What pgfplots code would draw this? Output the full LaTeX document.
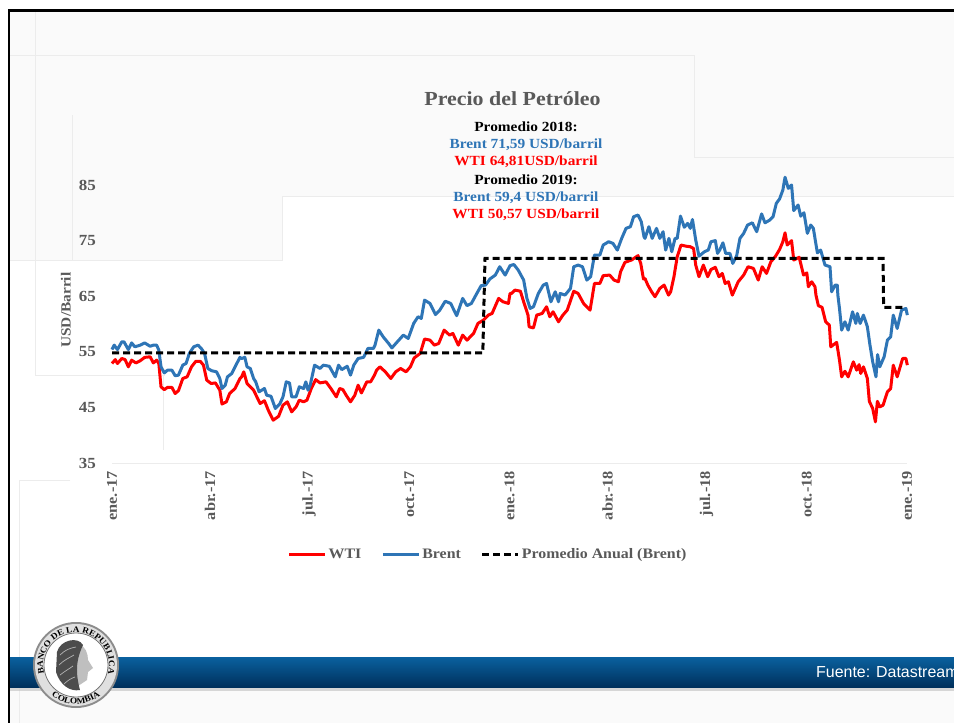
\documentclass[border=0pt]{standalone}
\usepackage{fontspec}
\setmainfont[FakeStretch=1.1]{Liberation Serif}
\newfontfamily\arialf{Liberation Sans}
\usepackage{pgfplots}
\pgfplotsset{compat=1.18}
\usetikzlibrary{decorations.text}
\definecolor{tickgray}{HTML}{595959}
\definecolor{brentblue}{HTML}{2E75B6}
\definecolor{wtired}{HTML}{FF0000}
\definecolor{faint}{HTML}{ECECEC}
\definecolor{bandtop}{HTML}{0A619F}
\definecolor{bandbot}{HTML}{00305C}
\begin{document}
\begin{tikzpicture}
\path[use as bounding box,clip] (0,0) rectangle (954bp,-723bp);
\begin{scope}[x=1bp,y=-1bp]
\fill[white] (0,0) rectangle (954,723);
\fill[white!98!black] (9,10) rectangle (954,723);
\fill[white] (9,260) -- (282,260) -- (282,196) -- (954,196) -- (954,657) -- (9,657) -- cycle;
\draw[faint,line width=1bp] (35,10) -- (35,375) -- (165,375);
\draw[faint,line width=1bp] (10,55) -- (694,55) -- (694,157) -- (954,157);
\draw[faint,line width=1bp] (72,115) -- (72,260);
\draw[faint,line width=1bp] (10,260) -- (282,260) -- (282,196) -- (954,196);
\draw[faint,line width=1bp] (163,375) -- (163,450);
\draw[faint,line width=1bp] (70,480) -- (19,480) -- (19,723);
\fill[black!25,opacity=.6] (10,687) rectangle (954,691);
\shade[top color=bandtop,bottom color=bandbot] (10,657) rectangle (954,687);
\fill[black] (7.5,9) rectangle (10,723);
\fill[black] (7.5,9) rectangle (954,11.5);
\node[anchor=west,text=white,font=\arialf\fontsize{16}{18}\selectfont,inner sep=0] at (816,672) {Fuente: Datastream};
% seal
\fill[black!45] (76,665) circle (43);
\fill[black!12] (76,665) circle (41);
\fill[white] (76,665) circle (32);
\draw[black!55,line width=.8bp] (76,665) circle (32);
\fill[black!25] (78,644) .. controls (86,646) and (88,654) .. (88,660) -- (93,668) -- (88,672) -- (87,680) -- (78,686) -- (72,664) -- cycle;
\fill[black!70] (57,652) .. controls (60,640) and (78,636) .. (83,645) .. controls (78,656) and (74,668) .. (80,690) .. controls (70,692) and (60,685) .. (56,672) -- cycle;
\draw[white!70!black,line width=.7bp] (60,655) .. controls (65,650) and (70,648) .. (76,647);
\draw[white!70!black,line width=.7bp] (59,665) .. controls (64,660) and (69,658) .. (74,655);
\draw[white!70!black,line width=.7bp] (60,675) .. controls (65,671) and (69,669) .. (73,666);
\draw[white!70!black,line width=.7bp] (64,684) .. controls (68,680) and (72,678) .. (75,677);
\path[decorate,decoration={text along path,text align=center,text={|\fontsize{8.5}{9}\bfseries\selectfont|BANCO DE LA REPUBLICA}}]
 (43.5,670.8) arc[start angle=170,end angle=370,radius=33];
\path[decorate,decoration={text along path,text align=center,text={|\fontsize{8.5}{9}\bfseries\selectfont|COLOMBIA}}]
 (46.1,690.1) arc[start angle=140,end angle=40,radius=39];
% titles
\node[font=\bfseries\fontsize{20}{24}\selectfont,text=tickgray] at (512.5,99) {Precio del Petróleo};
\begin{scope}[every node/.style={font=\bfseries\fontsize{14}{16}\selectfont,inner sep=0}]
\node[text=black] at (526,127) {Promedio 2018:};
\node[text=brentblue] at (526,145) {Brent 71,59 USD/barril};
\node[text=wtired] at (526,162) {WTI 64,81USD/barril};
\node[text=black] at (526,180) {Promedio 2019:};
\node[text=brentblue] at (526,198) {Brent 59,4 USD/barril};
\node[text=wtired] at (526,215) {WTI 50,57 USD/barril};
\end{scope}
\end{scope}
\begin{axis}[
  at={(112bp,-463bp)},anchor=south west,
  width=795bp,height=305.8bp,scale only axis,
  xmin=0,xmax=730,ymin=35,ymax=90,
  clip=false,
  axis x line=bottom,axis y line=left,
  x axis line style={draw=faint,line width=1bp,-},
  y axis line style={draw=none,-},
  xtick={0,90,181,273,365,455,546,638,730},
  xticklabels={ene.-17,abr.-17,jul.-17,oct.-17,ene.-18,abr.-18,jul.-18,oct.-18,ene.-19},
  ytick={35,45,55,65,75,85},
  yticklabels={35,45,55,65,75,85},
  major tick length=0pt,
  xticklabel style={rotate=90,anchor=east,font=\bfseries\fontsize{14.9}{16}\selectfont,text=tickgray,inner sep=0,xshift=-8bp},
  yticklabel style={anchor=east,font=\bfseries\fontsize{15.5}{17}\selectfont,text=tickgray,inner sep=0,xshift=-16bp},
  ylabel={USD/Barril},
  ylabel style={at={(axis description cs:-0.0579,0.5)},anchor=center,rotate=0,font=\bfseries\fontsize{14}{16}\selectfont,text=tickgray,inner sep=0},
  legend columns=3,
  legend style={at={(0.473,-0.298)},anchor=center,draw=none,fill=none,inner sep=0,
    font=\bfseries\fontsize{14.5}{16}\selectfont,text=tickgray,
    /tikz/every even column/.append style={column sep=18bp}},
  legend image code/.code={\draw[#1] (0bp,0bp) -- (36bp,0bp);},
]
\addplot[wtired,line width=3bp,line join=round] coordinates {
(0,52.9)(3,53.6)(5,52.9)(9,53.8)(12,53.6)(15,52.3)(18,53.5)(22,53.0)(26,53.4)(30,54.0)(35,54.1)(38,53.0)(41,53.5)(43,52.9)(45,48.7)(48,48.2)(51,48.6)(55,48.6)(58,47.5)(61,48.0)(65,50.2)(69,50.5)(73,52.3)(77,53.3)(81,53.3)(84,52.6)(87,49.9)(91,49.3)(95,49.4)(99,48.1)(101,45.6)(105,46.0)(108,47.5)(113,48.4)(117.5,50.2)
(119,50.5)(121,51.4)(124,49.3)(127,48.7)(130,48.1)(133,46.9)(136,45.7)(140,46.2)(143.5,44.5)(148,42.7)(153,43.4)(157,45.4)(161,46.0)(165,44.2)(169,45.1)(172,46.3)(176,46.0)(179,46.3)(183,48.4)(187,50.0)(191,49.4)(196.5,49.6)(201,48.4)(206,46.9)(209,48.4)(212,48.2)(215,47.2)(219,46.0)(223,47.2)(226,49.0)(229,47.6)(234,49.6)(237.5,49.6)(241,50.8)
(243,51.7)(246,52.3)(251,51.4)(256,50.2)(260.5,51.4)(265,52.0)(270,51.4)(274,52.3)(277.5,53.9)(283,54.7)(287,57.3)(292,57.1)(296,56.2)(300,56.5)(305,58.9)(310,58.0)(313,58.3)(318,56.2)(322,58.0)(326,57.1)(332,58.3)(336,60.1)(341,60.7)(345.5,61.6)(349,61.9)(355,64.6)(359,64.0)(364,63.7)(365.5,65.5)
(367,65.5)(370,66.1)(375,65.9)(378,64.0)(382,61.6)(383,59.5)(387,59.3)(390,61.6)(395,61.9)(399,63.1)(402,61.3)(405,62.2)(410,60.4)(414,61.6)(418,62.5)(424,65.9)(428,65.5)(433,63.7)(439,62.5)(443,67.3)(448,67.3)(451,68.7)(457,68.8)(461,67.9)(465,67.6)(467,69.4)(471,71.1)(477,71.5)(483,72.3)(485.5,70.9)(488,68.1)
(489.4,68.2)(492,67.0)(495.5,65.8)(498.6,64.9)(503,66.4)(507,67.0)(511,65.2)(513,65.8)(516,68.5)(519,72.1)(522.5,74.2)(527,74.0)(531,73.9)(534,73.6)(536,70.6)(539,68.5)(543,70.6)(547,68.5)(550,69.8)(554,70.2)(557.3,68.5)(560.4,69.1)(563,67.3)(566,67.6)(569.6,65.2)(575,67.6)(580,68.8)(584,70.3)(589,70.0)(593.4,67.9)(597,70.3)(601,69.1)(605,71.2)(609,72.1)(613,73.4)
(616,74.8)(618,76.4)(620,74.2)(624,75.0)(626,71.5)(629,71.8)(631,72.0)(635,68.8)(638,69.2)(639.4,66.7)(642.5,67.6)(645.5,66.7)(646.4,65.2)(648.6,63.3)(652,63.0)(655.3,60.4)(658.7,59.8)(660,55.9)(665.4,56.7)(668,53.5)(670,50.5)(673,51.5)(676,50.5)(680.7,53.2)(683.8,51.7)(686,52.7)(687.5,51.1)(690,52.3)(693.6,50.2)(695.4,46.1)(698.5,44.8)(701,42.4)(702.8,46.1)(705,45.1)(708,45.4)(712,47.8)(715,48.4)(717.4,52.6)(721,50.5)(726,53.8)(729,53.8)(730.3,52.6)
};
\addlegendentry{WTI}
\addplot[brentblue,line width=3bp,line join=round] coordinates {
(0,55.4)(2,56.2)(5,55.4)(9,56.8)(11,56.8)(15,55.4)(18,56.6)(21,55.9)(26,56.2)(30,56.6)(35,56.0)(38,56.2)(41,56.2)(43,55.3)(45,52.3)(48,51.2)(51,51.7)(55,51.7)(58,50.7)(61,50.8)(65,52.6)(68,52.9)(71,54.7)(75,55.9)(79,56.2)(82,55.6)(85,54.7)(88,52.0)(91.5,51.6)(96,51.4)(99,50.2)(101,48.4)(104,49.0)(106,50.5)(110,51.1)(113,52.3)(117.5,54.0)
(119,53.8)(122,54.0)(124,52.3)(127,52.0)(130,50.2)(132,49.6)(135,47.8)(140,48.4)(142,47.2)(146,47.0)(150,44.8)(154,45.6)(157,46.9)(160,49.6)(163,49.4)(165,46.9)(169,46.9)(172,48.7)(176,48.4)(178,49.6)(180,48.1)(182,49.0)(186,52.6)(191,52.0)(194,52.6)(199.5,52.4)(205,50.5)(208,52.6)(211,51.8)(216,52.4)(219,50.8)(222,52.6)(226,53.8)(231,54.0)(235,55.6)(240,55.6)
(241.5,56.2)(245,58.9)(249,57.7)(254,56.5)(257,55.7)(262,56.8)(267.5,58.0)(272,57.4)(277,60.1)(281,61.3)(284,61.0)(287,64.3)(292,63.7)(297,61.7)(301,62.5)(306,64.1)(311,63.7)(316.5,61.5)(322,64.6)(326,63.3)(330,63.7)(335,65.5)(339,66.9)(343,67.0)(347,68.1)(352,68.8)(356,70.3)(361,68.8)(365.5,70.5)
(369,70.7)(373,69.7)(378,67.9)(381,64.6)(384,62.8)(387,63.1)(391.5,65.5)(396,67.0)(399,67.3)(403,64.0)(407,65.8)(410,64.0)(411.5,65.5)(416,65.2)(421,66.4)(424,70.3)(428,70.6)(432,70.3)(436,67.9)(439.5,68.5)(443,72.4)(448,72.4)(451,74.2)(456,74.8)(460,74.5)(464,73.3)(468,75.4)(472,77.2)(476,77.5)(479,79.3)(483,79.6)(486,78.4)(488.5,75.7)
(489.4,75.4)(493,77.5)(496,75.4)(500,77.2)(503,75.4)(506,76.6)(508.4,73.3)(511.4,75.4)(514,73.0)(517,75.4)(519,75.4)(522,79.4)(525.5,77.4)(528.6,78.1)(531,77.2)(533,78.8)(536,75.1)(539,72.2)(544,73.0)(547.5,73.3)(550,74.8)(554,75.0)(556,72.7)(558,73.3)(561,74.6)(563.5,72.7)(567.4,72.7)(570,70.9)(573.5,72.2)(576.6,75.4)(580,76.3)(583.6,77.8)(588,78.2)(592,76.6)(596.5,79.8)(599.6,78.2)(604,78.7)(607,79.3)(610,81.7)(613,82.5)
(616,84.1)(618,86.4)(621,84.4)(624,85.0)(626,80.4)(630,81.4)(632.4,79.4)(635.4,80.0)(638.5,76.3)(641.6,77.8)(644,77.2)(647.7,72.8)(650.7,73.3)(654.7,70.6)(659.3,70.3)(660.8,65.8)(664,67.0)(666,67.0)(666.5,65.2)(668,62.8)(670,58.9)(673,60.4)(676,58.9)(680,62.2)(683,60.1)(684.4,61.9)(687,60.1)(690,61.6)(693.6,59.5)(696,56.2)(698.5,53.2)(701.5,50.5)(703,54.5)(705,52.3)(709,54.1)(712,57.1)(715,57.7)(717.4,61.6)(721,59.2)(725,62.5)(729,62.8)(730.3,61.6)
};
\addlegendentry{Brent}
\addplot[black,line width=3bp,dash pattern=on 7bp off 4bp] coordinates {
(0,54.8)(340.5,54.8)(342.5,71.8)(708,71.8)(708.5,63.0)(728,63.0)
};
\addlegendentry{Promedio Anual (Brent)}
\end{axis}
\end{tikzpicture}
\end{document}
